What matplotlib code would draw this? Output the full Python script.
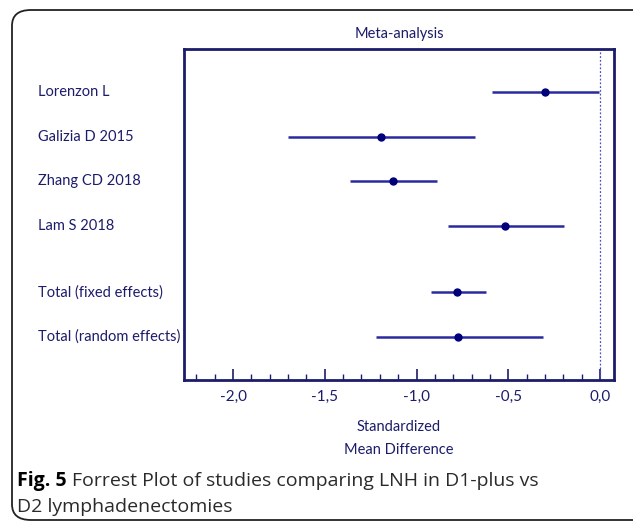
import matplotlib.pyplot as plt
from matplotlib.patches import FancyBboxPatch
from matplotlib.ticker import MultipleLocator, FuncFormatter

studies = ["Lorenzon L", "Galizia D 2015", "Zhang CD 2018", "Lam S 2018",
           "Total (fixed effects)", "Total (random effects)"]
smd = [-0.30, -1.195, -1.13, -0.52, -0.78, -0.775]
ci_low = [-0.59, -1.70, -1.36, -0.83, -0.92, -1.22]
ci_high = [-0.005, -0.68, -0.89, -0.195, -0.62, -0.31]
rows = [0, 1, 2, 3, 4.5, 5.5]

navy = "#1c1c6b"
line_col = "#2a2aa0"
dot_col = "#00007a"
font = "Lato"
cap_font = "Open Sans"

fig = plt.figure(figsize=(6.33, 5.22), dpi=100)

# rounded outer frame
frame = FancyBboxPatch((12 / 633, 1 - 520 / 522), 640 / 633, 510 / 522,
                       boxstyle="round,pad=0,rounding_size=0.03",
                       transform=fig.transFigure, fill=False,
                       edgecolor="#222222", linewidth=1.3, clip_on=False)
fig.patches.append(frame)

ax = fig.add_axes([184 / 633, 1 - 380 / 522, 430 / 633, 331 / 522])

for y, m, lo, hi in zip(rows, smd, ci_low, ci_high):
    ax.plot([lo, hi], [y, y], color=line_col, lw=1.8, solid_capstyle="butt")
    ax.plot(m, y, "o", color=dot_col, ms=5)

ax.axvline(0, color="#5050c0", lw=0.9, ls=(0, (1.5, 1.5)))

ax.set_xlim(-2.267, 0.076)
ax.set_ylim(6.47, -0.97)
ax.set_yticks([])

ax.xaxis.set_major_locator(MultipleLocator(0.5))
ax.xaxis.set_minor_locator(MultipleLocator(0.1))
ax.xaxis.set_major_formatter(FuncFormatter(lambda v, p: f"{v:.1f}".replace(".", ",").replace("-0,0", "0,0")))
ax.tick_params(axis="x", which="major", direction="in", length=8, width=1.2,
               color=navy, labelcolor=navy, labelsize=11, pad=7)
ax.tick_params(axis="x", which="minor", direction="in", length=4, width=1.0, color=navy)
for lab in ax.get_xticklabels():
    lab.set_fontfamily(font)

for s in ax.spines.values():
    s.set_color(navy)
    s.set_linewidth(2)

ax.set_title("Meta-analysis", color=navy, fontsize=10.5, fontfamily=font, pad=8)
ax.set_xlabel("Standardized\nMean Difference", color=navy, fontsize=10.5,
              fontfamily=font, labelpad=12, linespacing=1.75)

for y, name in zip(rows, studies):
    yf = fig.transFigure.inverted().transform(ax.transData.transform((0, y)))[1]
    fig.text(38 / 633, yf, name, fontsize=10.5, color=navy, fontfamily=font, va="center")

bold = fig.text(17 / 633, 1 - 481 / 522, "Fig. 5", fontsize=14, fontweight="bold",
                fontfamily=cap_font, va="center", color="black")
r = fig.canvas.get_renderer()
x_end = fig.transFigure.inverted().transform((bold.get_window_extent(r).x1 + 5, 0))[0]
fig.text(x_end, 1 - 481 / 522, "Forrest Plot of studies comparing LNH in D1-plus vs",
         fontsize=14, fontfamily=cap_font, va="center", color="#2a2a2a")
fig.text(17 / 633, 1 - 507 / 522, "D2 lymphadenectomies",
         fontsize=14, fontfamily=cap_font, va="center", color="#2a2a2a")

fig.savefig("out.png", dpi=100)
